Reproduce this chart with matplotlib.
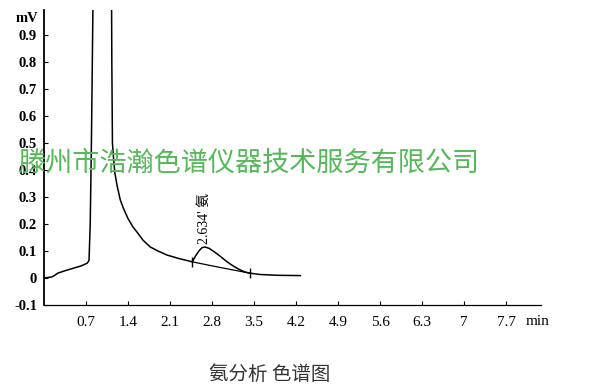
import matplotlib.pyplot as plt

# chromatogram trace (min, mV)
t = [0.0, 0.13, 0.18, 0.23, 0.35, 0.50, 0.62, 0.72, 0.75, 0.77, 0.79, 0.81, 0.83, 0.95,
     1.10, 1.12, 1.13, 1.14, 1.16, 1.18, 1.22, 1.27, 1.32, 1.40, 1.48, 1.55, 1.65, 1.77,
     1.90, 2.05, 2.25, 2.47, 2.52, 2.58, 2.63, 2.68, 2.75, 2.85, 2.95, 3.05, 3.15, 3.25,
     3.35, 3.43, 3.60, 3.90, 4.27]
mv = [0.0, 0.004, 0.010, 0.018, 0.027, 0.037, 0.045, 0.055, 0.065, 0.20, 0.50, 0.90, 1.30, 1.60,
      1.50, 1.30, 0.80, 0.50, 0.44, 0.39, 0.34, 0.29, 0.26, 0.22, 0.19, 0.17, 0.14, 0.115,
      0.10, 0.085, 0.072, 0.06, 0.08, 0.10, 0.112, 0.115, 0.11, 0.095, 0.078, 0.06, 0.045, 0.032,
      0.022, 0.018, 0.013, 0.010, 0.009]

# drawn baseline under the ammonia peak
base_t = [2.47, 2.80, 3.10, 3.43]
base_mv = [0.06, 0.045, 0.032, 0.018]

xticks = [0.7, 1.4, 2.1, 2.8, 3.5, 4.2, 4.9, 5.6, 6.3, 7.0, 7.7]
xlabels = ['0.7', '1.4', '2.1', '2.8', '3.5', '4.2', '4.9', '5.6', '6.3', '7', '7.7']
yticks = [-0.1, 0, 0.1, 0.2, 0.3, 0.4, 0.5, 0.6, 0.7, 0.8, 0.9]
ylabels = ['-0.1', '0', '0.1', '0.2', '0.3', '0.4', '0.5', '0.6', '0.7', '0.8', '0.9']

serif = 'Liberation Serif'
cjk = ['Noto Sans CJK SC', 'DejaVu Sans']

fig = plt.figure(figsize=(6, 3.91), dpi=100)
ax = fig.add_axes([44 / 600, 1 - 305 / 391, (541 - 44) / 600, (305 - 10) / 391])

ax.plot(t, mv, color='black', lw=1.1)
ax.plot(base_t, base_mv, color='black', lw=0.9)
ax.plot([base_t[0], base_t[-1]], [base_mv[0], base_mv[-1]], ls='none',
        marker='|', ms=7, mew=1, color='black')

ax.set_xlim(0, 8.28)
ax.set_ylim(-0.1, 0.993)
for s in ['top', 'right']:
    ax.spines[s].set_visible(False)
ax.spines['left'].set_linewidth(1.3)
ax.spines['bottom'].set_linewidth(0.9)

ax.set_xticks(xticks)
ax.set_xticklabels(xlabels, fontfamily=serif, fontsize=11)
ax.set_yticks(yticks)
ax.set_yticklabels(ylabels, fontfamily=serif, fontsize=10.5, fontweight='bold')
ax.tick_params(axis='x', direction='in', length=3, pad=8)
ax.tick_params(axis='y', direction='in', length=3, pad=5)

ax.text(-0.1, 0.96, 'mV', fontfamily=serif, fontsize=10.5, fontweight='bold',
        ha='right', va='center')
ax.text(8.02, -0.162, 'min', fontfamily=serif, fontsize=11, ha='left', va='center')

ax.text(2.68, 0.125, "2.634' 氨", rotation=90, family=['Liberation Serif', 'Noto Sans CJK SC'],
        fontsize=10, ha='center', va='bottom')

fig.text(0.03, 1 - 163 / 391, '滕州市浩瀚色谱仪器技术服务有限公司', family=cjk,
         fontsize=19.5, color='#55b95a', ha='left', va='center')
fig.text(270 / 600, 1 - 375 / 391, '氨分析 色谱图', family=cjk, fontsize=14,
         color='#333333', ha='center', va='center')

fig.savefig('out.png', dpi=100)
